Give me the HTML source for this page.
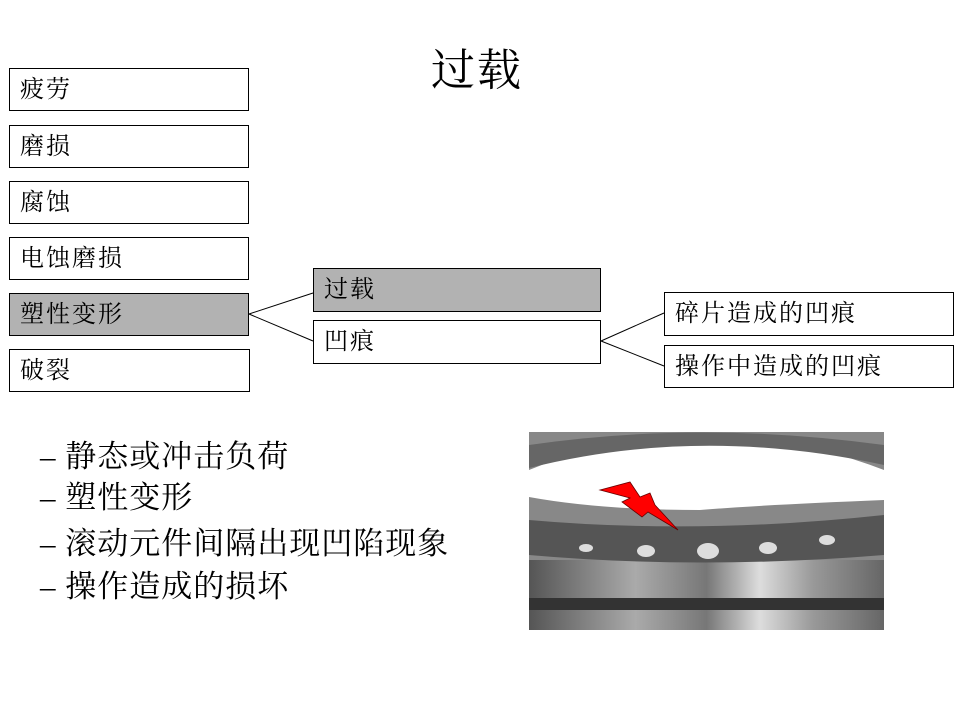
<!DOCTYPE html>
<html><head><meta charset="utf-8"><style>
body{margin:0;width:957px;height:719px;background:#fff;position:relative;overflow:hidden;font-family:"Liberation Serif","Noto Serif CJK SC","Noto Sans CJK SC",serif;color:#000}
.b{position:absolute;border:1px solid #000;background:#fff;box-sizing:border-box;font-size:24px;letter-spacing:2px;line-height:42px;padding-left:10px;white-space:nowrap}
.g{background:#b2b2b2}
.t{position:absolute;left:431px;top:34px;font-size:44px;letter-spacing:2px}
.l{position:absolute;left:40px;font-size:31px;letter-spacing:1px;white-space:nowrap}
</style></head><body>
<div class="t">过载</div>
<div class="b" style="left:9px;top:68px;width:240px;height:43px">疲劳</div>
<div class="b" style="left:9px;top:125px;width:240px;height:43px">磨损</div>
<div class="b" style="left:9px;top:181px;width:240px;height:43px">腐蚀</div>
<div class="b" style="left:9px;top:237px;width:240px;height:43px">电蚀磨损</div>
<div class="b g" style="left:9px;top:293px;width:240px;height:43px">塑性变形</div>
<div class="b" style="left:9px;top:349px;width:241px;height:43px">破裂</div>
<div class="b g" style="left:313px;top:268px;width:288px;height:44px">过载</div>
<div class="b" style="left:313px;top:320px;width:288px;height:44px">凹痕</div>
<div class="b" style="left:664px;top:292px;width:290px;height:44px">碎片造成的凹痕</div>
<div class="b" style="left:664px;top:345px;width:290px;height:43px">操作中造成的凹痕</div>
<svg style="position:absolute;left:0;top:0" width="957" height="719">
<g stroke="#000" stroke-width="1" fill="none">
<line x1="249" y1="314" x2="313" y2="293"/><line x1="249" y1="314" x2="313" y2="341"/>
<line x1="601" y1="341" x2="664" y2="313"/><line x1="601" y1="341" x2="664" y2="366"/>
</g>
<defs>
<linearGradient id="rg" x1="0" x2="1"><stop offset="0" stop-color="#555"/><stop offset=".3" stop-color="#aaa"/><stop offset=".5" stop-color="#777"/><stop offset=".65" stop-color="#ddd"/><stop offset=".8" stop-color="#999"/><stop offset="1" stop-color="#666"/></linearGradient>
</defs>
<rect x="528" y="430" width="357" height="200" fill="#fff"/>
<rect x="529" y="432" width="355" height="198" fill="#888"/>
<path d="M529 470 Q700 400 884 470 L884 500 Q760 505 700 510 Q600 510 529 497 Z" fill="#fff"/>
<path d="M529 445 Q700 420 884 445 L884 465 Q700 425 529 468 Z" fill="#666"/>
<rect x="529" y="560" width="355" height="40" fill="url(#rg)"/>
<rect x="529" y="598" width="355" height="12" fill="#333"/>
<rect x="529" y="610" width="355" height="20" fill="url(#rg)"/>
<path d="M529 520 Q700 535 884 515 L884 555 Q700 570 529 555 Z" fill="#555"/>
<g fill="#ddd"><ellipse cx="586" cy="548" rx="7" ry="4"/><ellipse cx="646" cy="551" rx="9" ry="6"/><ellipse cx="708" cy="551" rx="11" ry="8"/><ellipse cx="768" cy="548" rx="9" ry="6"/><ellipse cx="827" cy="540" rx="8" ry="5"/></g>
<path d="M600 490 L630 482 L640 497 L650 493 L655 505 L678 530 L648 512 L642 517 L622 502 L630 498 Z" fill="#f00" stroke="#600" stroke-width=".8"/>
</svg>
<div class="l" style="top:431px">– 静态或冲击负荷</div>
<div class="l" style="top:472px">– 塑性变形</div>
<div class="l" style="top:518px">– 滚动元件间隔出现凹陷现象</div>
<div class="l" style="top:561px">– 操作造成的损坏</div>
</body></html>
